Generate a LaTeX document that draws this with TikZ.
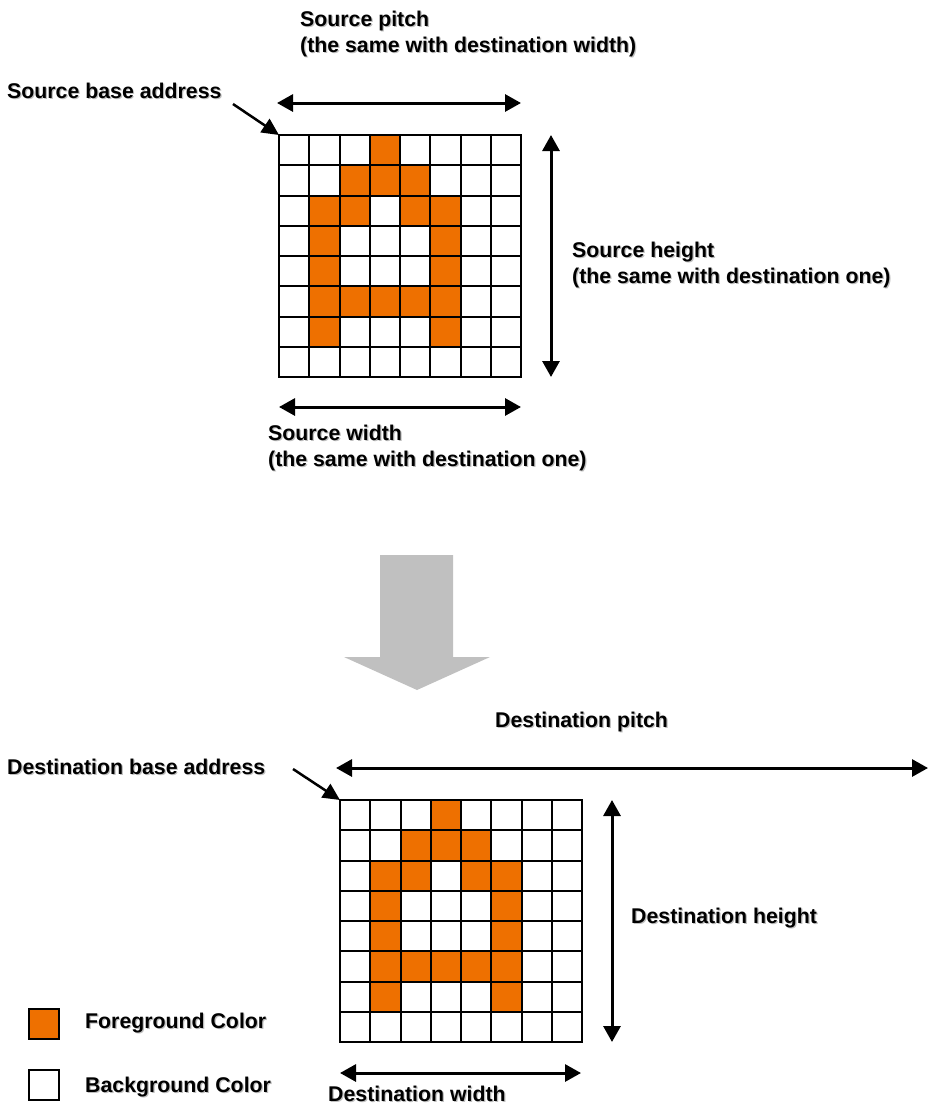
\documentclass[tikz,border=0pt]{standalone}
\usepackage{fontspec}
\setmainfont{Liberation Sans}
\usetikzlibrary{arrows.meta}
\definecolor{fgorange}{RGB}{238,112,0}
\definecolor{biggray}{RGB}{192,192,192}
\newcommand{\shd}[1]{\leavevmode\rlap{\hspace{1.2pt}\raisebox{-1.2pt}{\textcolor{black!25}{#1}}}#1}
\tikzset{
  lbl/.style={anchor=base west, inner sep=0pt, font=\bfseries\fontsize{21.3}{25.5}\selectfont, align=left},
  dimarrow/.style={line width=3pt, {Triangle[length=16pt,width=17pt]}-{Triangle[length=16pt,width=17pt]}},
  ptr/.style={line width=2.5pt, -{Triangle[length=17pt,width=16pt]}},
  gridline/.style={line width=2pt, line cap=rect},
  frame/.style={draw=none, inner sep=0pt, minimum width=242pt, minimum height=242pt, anchor=north west},
  legbox/.style={draw, line width=2pt, inner sep=0pt, minimum width=30pt, minimum height=30pt, anchor=north west}
}
\begin{document}
\begin{tikzpicture}[x=1pt, y=-1pt]
\useasboundingbox (0,0) rectangle (928,1106);

% ---------- source grid ----------
\node[frame] (src) at (279,135) {};
\begin{scope}[shift={(279,135)}]
  \foreach \c/\r in {3/0,2/1,3/1,4/1,1/2,2/2,4/2,5/2,1/3,5/3,1/4,5/4,1/5,2/5,3/5,4/5,5/5,1/6,5/6}
    \fill[fgorange] (\c*30.25,\r*30.25) rectangle +(30.25,30.25);
  \foreach \i in {0,...,8} {
    \draw[gridline] (\i*30.25,0) -- (\i*30.25,242);
    \draw[gridline] (0,\i*30.25) -- (242,\i*30.25);
  }
\end{scope}

% ---------- destination grid ----------
\node[frame] (dst) at (340,800) {};
\begin{scope}[shift={(340,800)}]
  \foreach \c/\r in {3/0,2/1,3/1,4/1,1/2,2/2,4/2,5/2,1/3,5/3,1/4,5/4,1/5,2/5,3/5,4/5,5/5,1/6,5/6}
    \fill[fgorange] (\c*30.25,\r*30.25) rectangle +(30.25,30.25);
  \foreach \i in {0,...,8} {
    \draw[gridline] (\i*30.25,0) -- (\i*30.25,242);
    \draw[gridline] (0,\i*30.25) -- (242,\i*30.25);
  }
\end{scope}

% ---------- labels (multi-line: anchor is last line's baseline) ----------
\node[lbl] (spitch) at (300,52) {\shd{Source pitch}\\\shd{(the same with destination width)}};
\node[lbl] (sbase) at (7,98) {\shd{Source base address}};
\node[lbl] (sheight) at (572,283) {\shd{Source height}\\\shd{(the same with destination one)}};
\node[lbl] (swidth) at (268,466) {\shd{Source width}\\\shd{(the same with destination one)}};
\node[lbl] (dpitch) at (495,727) {\shd{Destination pitch}};
\node[lbl] (dbase) at (7,774) {\shd{Destination base address}};
\node[lbl] (dheight) at (631,923) {\shd{Destination height}};
\node[lbl] (dwidth) at (328,1101) {\shd{Destination width}};
\node[lbl] (fgtxt) at (85,1028) {\shd{Foreground Color}};
\node[lbl] (bgtxt) at (85,1092) {\shd{Background Color}};

% ---------- legend boxes ----------
\node[legbox, fill=fgorange] (fgbox) at (28,1008) {};
\node[legbox, fill=white] (bgbox) at (28,1069) {};

% ---------- source dimension arrows ----------
\coordinate (sp1) at (277,103);
\coordinate (sp2) at (521,103);
\draw[dimarrow] (sp1) -- (sp2);
\coordinate (sh1) at (551,135);
\coordinate (sh2) at (551,377);
\draw[dimarrow] (sh1) -- (sh2);
\coordinate (sw1) at (279,407);
\coordinate (sw2) at (521,407);
\draw[dimarrow] (sw1) -- (sw2);
\coordinate (sb0) at (233,104);
\draw[ptr] (sb0) -- (src.north west);

% ---------- destination dimension arrows ----------
\coordinate (dp1) at (336,768);
\coordinate (dp2) at (928,768);
\draw[dimarrow] (dp1) -- (dp2);
\coordinate (dh1) at (612,800);
\coordinate (dh2) at (612,1042);
\draw[dimarrow] (dh1) -- (dh2);
\coordinate (dw1) at (340,1073);
\coordinate (dw2) at (581,1073);
\draw[dimarrow] (dw1) -- (dw2);
\coordinate (db0) at (293,769);
\draw[ptr] (db0) -- (dst.north west);

% ---------- big transition arrow ----------
\fill[biggray] (380,555) -- (453,555) -- (453,657) -- (490,657) -- (417,690) -- (344,657) -- (380,657) -- cycle;
\end{tikzpicture}
\end{document}
